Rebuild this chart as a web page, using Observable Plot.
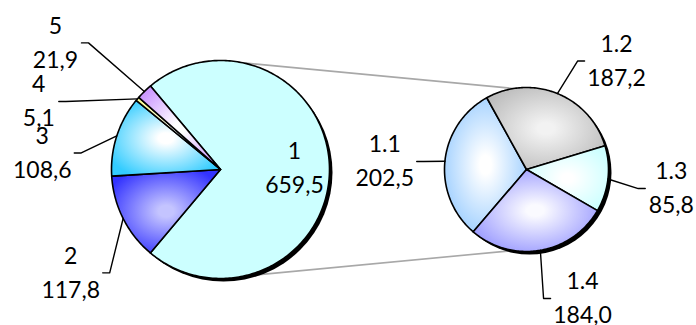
<!DOCTYPE html>
<html><head><meta charset="utf-8">
<script src="https://cdn.jsdelivr.net/npm/d3@7"></script>
<script src="https://cdn.jsdelivr.net/npm/@observablehq/plot@0.6"></script>
<style>body{margin:0;background:#fff}#chart svg{display:block}</style>
</head><body><div id="chart"></div>
<script>
// ---- data ----
const mainNames = ["1", "2", "3", "4", "5"];
const mainValues = [659.5, 117.8, 108.6, 5.1, 21.9];
const subNames = ["1.1", "1.2", "1.3", "1.4"];
const subValues = [202.5, 187.2, 85.8, 184.0];

// ---- layout & style ----
const W = 696, H = 325;
const leftPie = {cx: 220, cy: 169, r: 109, start: -40};
const rightPie = {cx: 526, cy: 169, r: 82, start: -139.5};
const mainColors = [["#CCFFFF", "#CCFFFF"], ["#C4C4FF", "#3333FF"], ["#FFFFFF", "#33CCFF"], ["#FFFFFF", "#FFFF99"], ["#FFFFFF", "#CC99FF"]];
const subColors = [["#FFFFFF", "#99CCFF"], ["#F2F2F2", "#BDBDBD"], ["#FFFFFF", "#CCFFFF"], ["#FAFAFF", "#9999FF"]];
// label block placement: [angle (deg, ccw from east), distance from pie centre]
const mainLabelPos = [[1.2, 74], [214.6, 182], [174.7, 179], [159.5, 194], [142.5, 208]];
const subLabelPos = [[176.8, 142], [50.3, 141], [-7.5, 146], [-66.5, 140.6]];
const fmt = v => v.toFixed(1).replace(".", ",");
const rad = d => d * Math.PI / 180;

function buildPie(names, values, pie, colors, labelPos, prefix, leaderFrom) {
  const arcs = d3.pie().sort(null).startAngle(rad(pie.start)).endAngle(rad(pie.start + 360))(values);
  const slices = [], labels = [], leaders = [];
  arcs.forEach((a, i) => {
    const pts = [{x: pie.cx, y: pie.cy}];
    const n = Math.max(4, Math.ceil((a.endAngle - a.startAngle) / rad(1)));
    for (let k = 0; k <= n; k++) {
      const t = a.startAngle + (a.endAngle - a.startAngle) * k / n;
      pts.push({x: pie.cx + pie.r * Math.sin(t), y: pie.cy - pie.r * Math.cos(t)});
    }
    pts.push({x: pie.cx, y: pie.cy});
    slices.push({pts, fill: `url(#${prefix}${i})`, colors: colors[i]});
    const [ang, dist] = labelPos[i];
    const L = {x: pie.cx + dist * Math.cos(rad(ang)), y: pie.cy - dist * Math.sin(rad(ang))};
    const txt = names[i] + "\n" + fmt(values[i]);
    labels.push({x: L.x, y: L.y, text: txt});
    if (i >= leaderFrom) {
      const mid = (a.startAngle + a.endAngle) / 2;
      const A = {x: pie.cx + pie.r * Math.sin(mid), y: pie.cy - pie.r * Math.cos(mid)};
      const side = L.x < A.x ? -1 : 1;
      const halfW = Math.max(names[i].length, fmt(values[i]).length) * 6;
      const E = {x: L.x - side * (halfW + 9), y: L.y};
      const F = {x: E.x + side * 7, y: L.y};
      leaders.push([A, E, F].map(p => ({...p, id: prefix + i})));
    }
  });
  return {slices, labels, leaders: leaders.flat()};
}

const left = buildPie(mainNames, mainValues, leftPie, mainColors, mainLabelPos, "gm", 1);
const right = buildPie(subNames, subValues, rightPie, subColors, subLabelPos, "gs", 0);

const pt = (pie, deg) => ({x: pie.cx + pie.r * Math.cos(rad(deg)), y: pie.cy - pie.r * Math.sin(rad(deg))});
const connectors = [
  {...pt(leftPie, 78), id: "top"}, {...pt(rightPie, 99), id: "top"},
  {...pt(leftPie, -78), id: "bot"}, {...pt(rightPie, -99), id: "bot"}
];
const shadows = [
  {x: leftPie.cx + 3, y: leftPie.cy + 3, r: leftPie.r},
  {x: rightPie.cx + 3, y: rightPie.cy + 3, r: rightPie.r}
];

const marks = [
  Plot.line(connectors, {x: "x", y: "y", z: "id", stroke: "#A8A8A8", strokeWidth: 1.6}),
  ...shadows.map(s => Plot.dot([s], {x: "x", y: "y", r: s.r, fill: "#000", stroke: "none"})),
  ...[...left.slices, ...right.slices].map(s =>
    Plot.line(s.pts, {x: "x", y: "y", fill: s.fill, stroke: "#000", strokeWidth: 1.6, strokeLinejoin: "round"})),
  Plot.line([...left.leaders, ...right.leaders], {x: "x", y: "y", z: "id", stroke: "#000", strokeWidth: 1.4}),
  Plot.text([...left.labels, ...right.labels], {x: "x", y: "y", text: "text", fontSize: 23, lineHeight: 1.48,
    dy: -3, fontFamily: "Lato", fill: "#000", textAnchor: "middle"})
];

const svg = Plot.plot({
  width: W, height: H, margin: 0,
  x: {domain: [0, W], range: [0, W], axis: null},
  y: {domain: [0, H], range: [0, H], axis: null},
  style: {background: "#fff", overflow: "visible"},
  marks
});

const defs = d3.select(svg).insert("defs", ":first-child");
[...left.slices, ...right.slices].forEach(s => {
  const id = s.fill.slice(5, -1);
  const g = defs.append("radialGradient").attr("id", id).attr("cx", "50%").attr("cy", "50%").attr("r", "58%");
  g.append("stop").attr("offset", "0%").attr("stop-color", s.colors[0]);
  g.append("stop").attr("offset", "12%").attr("stop-color", s.colors[0]);
  g.append("stop").attr("offset", "100%").attr("stop-color", s.colors[1]);
});
document.getElementById("chart").appendChild(svg);
</script>
</body></html>
